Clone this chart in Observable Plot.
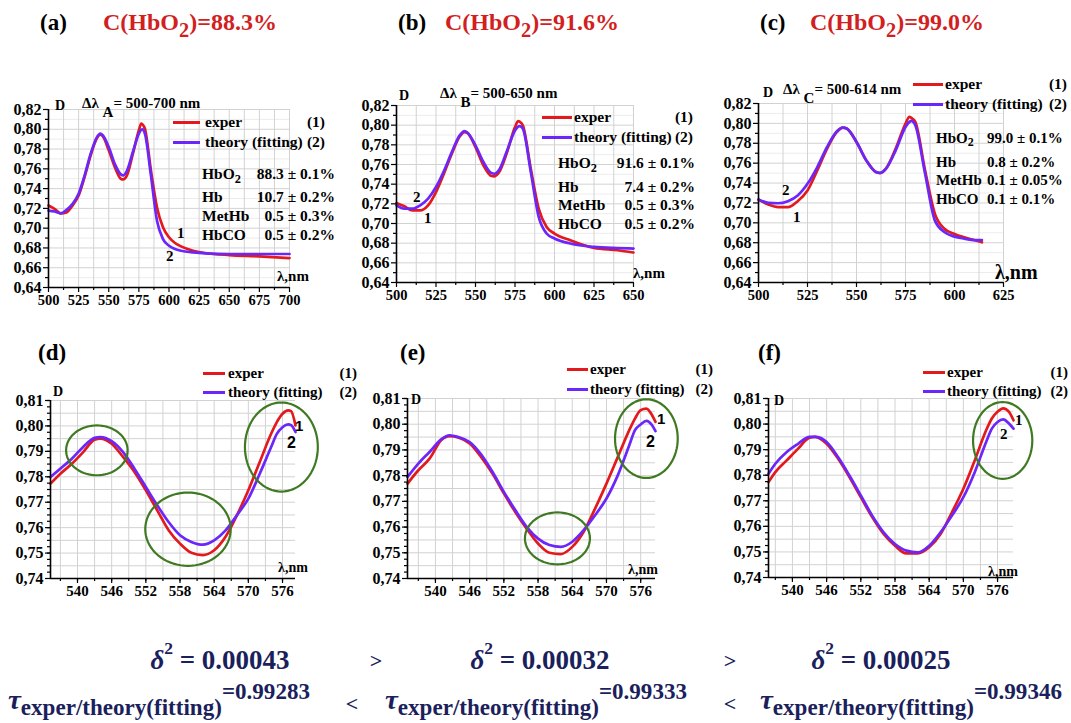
<!DOCTYPE html>
<html><head><meta charset="utf-8">
<script src="https://cdn.jsdelivr.net/npm/d3@7"></script>
<script src="https://cdn.jsdelivr.net/npm/@observablehq/plot@0.6"></script>
<style>
body{margin:0;background:#fff;}
#fig{position:relative;width:1071px;height:723px;overflow:hidden;background:#fff;font-family:"Liberation Serif","Times New Roman","DejaVu Serif",serif;font-weight:bold;color:#000;}
.t{position:absolute;white-space:nowrap;line-height:1;font-family:"Liberation Serif","Times New Roman","DejaVu Serif",serif;font-weight:bold;}
.p{position:absolute;}
.ln{position:absolute;height:3px;}
</style>
</head><body>
<div id="fig"></div>
<script>
// ---------- data ----------
const aWl = [500,505,510,515,520,525,530,535,540,543,545,550,555,560,562,565,570,575,577,578,580,585,590,595,600,605,610,620,630,650,675,700];
const aExper = [0.7229,0.7195,0.7150,0.7160,0.7230,0.7330,0.7520,0.7737,0.7906,0.7946,0.7930,0.7787,0.7620,0.7500,0.7493,0.7530,0.7750,0.7990,0.8058,0.8050,0.8007,0.7584,0.7212,0.7010,0.6908,0.6850,0.6816,0.6772,0.6749,0.6728,0.6715,0.6698];
const aTheory = [0.7178,0.7168,0.7150,0.7185,0.7246,0.7348,0.7534,0.7753,0.7916,0.7956,0.7940,0.7820,0.7650,0.7544,0.7534,0.7578,0.7770,0.7956,0.7995,0.8000,0.7956,0.7534,0.7077,0.6890,0.6823,0.6789,0.6772,0.6755,0.6745,0.6739,0.6739,0.6739];

const bWl = [500,505,510,515,520,525,530,535,540,543,545,550,555,560,562,565,570,575,577,578,580,585,590,595,600,610,625,640,650];
const bExper = [0.7209,0.7175,0.7134,0.7134,0.7185,0.7320,0.7507,0.7710,0.7885,0.7930,0.7920,0.7777,0.7591,0.7483,0.7480,0.7523,0.7726,0.7980,0.8041,0.8035,0.7997,0.7557,0.7151,0.6965,0.6898,0.6830,0.6752,0.6728,0.6705];
const bTheory = [0.7185,0.7151,0.7151,0.7185,0.7253,0.7371,0.7534,0.7726,0.7896,0.7940,0.7923,0.7794,0.7625,0.7513,0.7506,0.7547,0.7743,0.7946,0.7985,0.7990,0.7963,0.7523,0.7067,0.6898,0.6847,0.6796,0.6762,0.6750,0.6745];

const cWl = [500,505,510,515,520,525,530,535,540,543,545,550,555,560,562,565,570,575,577,578,580,585,590,595,600,605,610,614];
const cExper = [0.7234,0.7184,0.7157,0.7157,0.7218,0.7325,0.7527,0.7746,0.7914,0.7958,0.7948,0.7813,0.7628,0.7510,0.7500,0.7544,0.7746,0.7998,0.8065,0.8055,0.8015,0.7527,0.7090,0.6938,0.6888,0.6854,0.6827,0.6804];
const cTheory = [0.7234,0.7201,0.7197,0.7218,0.7275,0.7392,0.7561,0.7763,0.7921,0.7958,0.7948,0.7813,0.7628,0.7510,0.7503,0.7544,0.7729,0.7964,0.8015,0.8025,0.7981,0.7494,0.7022,0.6905,0.6861,0.6841,0.6827,0.6827];

const dWl = [535.26,537,539,541,543,544,546,548,550,552,554,556,558,560,562,564,566,568,570,572,574,575,576,577,577.5,578.28];
const dExper = [0.7773,0.7812,0.7851,0.7897,0.7946,0.7950,0.7930,0.7878,0.7819,0.7747,0.7668,0.7590,0.7537,0.7501,0.7492,0.7511,0.7564,0.7649,0.7747,0.7858,0.7969,0.8015,0.8048,0.8061,0.8058,0.8002];
const dTheory = [0.7799,0.7832,0.7871,0.7917,0.7953,0.7956,0.7940,0.7897,0.7832,0.7760,0.7688,0.7622,0.7570,0.7544,0.7533,0.7550,0.7589,0.7649,0.7714,0.7812,0.7917,0.7969,0.7995,0.8006,0.8003,0.7976];

const eWl = [535.1,537,539,541,542.5,544,546,548,550,552,554,556,558,560,562,564,566,568,570,572,574,575,576,577,578,578.6];
const eExper = [0.7769,0.7821,0.7867,0.7938,0.7954,0.7948,0.7925,0.7873,0.7808,0.7731,0.7659,0.7594,0.7536,0.7500,0.7495,0.7523,0.7582,0.7672,0.7769,0.7873,0.7977,0.8022,0.8055,0.8061,0.8035,0.8009];
const eTheory = [0.7795,0.7847,0.7893,0.7941,0.7957,0.7950,0.7931,0.7883,0.7815,0.7737,0.7666,0.7601,0.7555,0.7530,0.7523,0.7543,0.7588,0.7646,0.7711,0.7802,0.7918,0.7977,0.7999,0.8013,0.7996,0.7973];

const fWl = [535.8,537,539,541,543,544,546,548,550,552,554,556,558,560,562,564,566,568,570,572,574,575,576,577,578,578.8];
const fExper = [0.7773,0.7812,0.7858,0.7904,0.7947,0.7950,0.7923,0.7865,0.7793,0.7714,0.7636,0.7570,0.7524,0.7494,0.7494,0.7518,0.7570,0.7655,0.7747,0.7858,0.7976,0.8022,0.8048,0.8061,0.8048,0.8015];
const fTheory = [0.7806,0.7845,0.7891,0.7923,0.7950,0.7950,0.7930,0.7871,0.7799,0.7721,0.7642,0.7577,0.7531,0.7505,0.7498,0.7524,0.7577,0.7642,0.7714,0.7812,0.7930,0.7982,0.8008,0.8018,0.8002,0.7982];

// tick labels
const topYTicks = [0.64,0.66,0.68,0.70,0.72,0.74,0.76,0.78,0.80,0.82];
const botYTicks = [0.74,0.75,0.76,0.77,0.78,0.79,0.80,0.81];
const aXTicks = [500,525,550,575,600,625,650,675,700];
const bXTicks = [500,525,550,575,600,625,650];
const cXTicks = [500,525,550,575,600,625];
const botXTicks = [540,546,552,558,564,570,576];

// component tables
const compNames = ["HbO<sub style='font-size:0.8em;vertical-align:-0.3em;line-height:0'>2</sub>","Hb","MetHb","HbCO"];
const aComp = ["88.3 ± 0.1%","10.7 ± 0.2%","0.5 ± 0.3%","0.5 ± 0.2%"];
const bComp = ["91.6 ± 0.1%","7.4 ± 0.2%","0.5 ± 0.3%","0.5 ± 0.2%"];
const cComp = ["99.0 ± 0.1%","0.8 ± 0.2%","0.1 ± 0.05%","0.1 ± 0.1%"];
const titles = ["88.3%","91.6%","99.0%"];
const delta2 = ["0.00043","0.00032","0.00025"];
const tau = ["0.99283","0.99333","0.99346"];

// highlighted regions (annotation ellipses, data units)
const dEllipses = [{cx:543.4,cy:0.7904,rx:5.4,ry:0.0098},{cx:559.4,cy:0.7594,rx:7.5,ry:0.0144},{cx:575.8,cy:0.7917,rx:6.4,ry:0.0175}];
const eEllipses = [{cx:561.4,cy:0.7556,rx:5.7,ry:0.0101},{cx:577.0,cy:0.7944,rx:5.5,ry:0.0153}];
const fEllipses = [{cx:576.9,cy:0.7936,rx:5.2,ry:0.0150}];

// ---------- drawing ----------
const RED = "#e2191d", BLUE = "#6b26fa", GREEN = "#3f7a22";
const fig = document.getElementById("fig");
const comma = d => d.toFixed(2).replace(".", ",");

function range(a, b, s){ const r=[]; for(let v=a; v<=b+1e-9; v+=s) r.push(+v.toFixed(6)); return r; }

function panel(c){
  const ex = c.wl.map((w,i)=>({wl:w, D:c.exper[i]}));
  const th = c.wl.map((w,i)=>({wl:w, D:c.theory[i]}));
  const marks = [
    Plot.ruleY(c.yMinor, {stroke:"#ececec", strokeWidth:1}),
    Plot.ruleY(c.yGrid, {stroke:"#d2d2d2", strokeWidth:1}),
    Plot.ruleX(c.xGrid, {stroke:"#d2d2d2", strokeWidth:1}),
    Plot.line(ex, {x:"wl", y:"D", stroke:RED, strokeWidth:2.7, curve:"monotone-x"}),
    Plot.line(th, {x:"wl", y:"D", stroke:BLUE, strokeWidth:2.7, curve:"monotone-x"}),
  ];
  if (c.ellipses){
    const pts = [];
    c.ellipses.forEach((e,k)=>{ for(let i=0;i<=72;i++){ const a=i/72*2*Math.PI; pts.push({k, x:e.cx+e.rx*Math.cos(a), y:e.cy+e.ry*Math.sin(a)}); } });
    marks.push(Plot.line(pts, {x:"x", y:"y", z:"k", stroke:GREEN, strokeWidth:2.2}));
  }
  marks.push(
    Plot.axisY(c.yMinorTicks, {tickSize:3, text:null, label:null, stroke:"#000", strokeWidth:1.2}),
    Plot.axisY(c.yTicks, {tickSize:5, tickPadding:2, tickFormat:comma, fontSize:16, fontWeight:"bold", stroke:"#000", strokeWidth:1.2, label:null}),
    Plot.axisX(c.xMinorTicks, {tickSize:3, text:null, label:null, stroke:"#000", strokeWidth:1.2}),
    Plot.axisX(c.xTicks, {tickSize:5, tickPadding:2, fontSize:c.xfs||15, fontWeight:"bold", stroke:"#000", strokeWidth:1.2, label:null}),
    Plot.ruleX([c.xDomain[0]], {stroke:"#000", strokeWidth:1.6}),
    Plot.ruleY([c.yDomain[0]], {stroke:"#000", strokeWidth:1.6})
  );
  const svg = Plot.plot({
    width:c.w, height:c.h,
    marginLeft:c.ml, marginRight:c.mr, marginTop:c.mt, marginBottom:c.mb,
    style:{fontFamily:"'Liberation Serif','Times New Roman',serif", fontWeight:"bold", background:"transparent", overflow:"visible"},
    x:{domain:c.xDomain, label:null}, y:{domain:c.yDomain, label:null},
    marks
  });
  svg.classList.add("p");
  svg.style.left = c.left + "px"; svg.style.top = c.top + "px";
  fig.appendChild(svg);
}

function put(x, y, html, fs, anchor="start", extra="", sx=1){
  const d = document.createElement("div");
  d.className = "t";
  d.style.left = x + "px"; d.style.top = y + "px";
  d.style.fontSize = fs + "px";
  const tx = anchor === "end" ? "-100%" : anchor === "middle" ? "-50%" : "0";
  d.style.transformOrigin = anchor === "end" ? "right center" : anchor === "middle" ? "center center" : "left center";
  d.style.transform = `translate(${tx},-50%) scaleX(${sx})`;
  if (extra) d.style.cssText += extra;
  d.innerHTML = html;
  fig.appendChild(d);
  return d;
}
function hline(x1, x2, y, col){
  const d = document.createElement("div");
  d.className = "ln";
  d.style.left = x1 + "px"; d.style.top = (y-1.5) + "px"; d.style.width = (x2-x1) + "px"; d.style.background = col;
  fig.appendChild(d);
}
function legend(x1, x2, y1, y2, tx, rx, fs){
  hline(x1, x2, y1, RED); hline(x1, x2, y2, BLUE);
  put(tx, y1, "exper", fs);
  put(rx, y1, "(1)", fs, "end");
  put(tx, y2, "theory (fitting)", fs);
  put(rx, y2, "(2)", fs, "end");
}

// top row panels
panel({wl:aWl, exper:aExper, theory:aTheory, left:0, top:80, w:360, h:240, ml:48, mr:71, mt:29, mb:33,
  xDomain:[500,700], yDomain:[0.64,0.82], xTicks:aXTicks, yTicks:topYTicks,
  xGrid:range(500,700,12.5), yGrid:range(0.64,0.82,0.02), yMinor:range(0.65,0.81,0.02),
  xMinorTicks:range(512.5,687.5,25), yMinorTicks:range(0.65,0.81,0.02), xfs:14.5});
panel({wl:bWl, exper:bExper, theory:bTheory, left:355, top:80, w:360, h:240, ml:41, mr:82, mt:25, mb:38,
  xDomain:[500,650], yDomain:[0.64,0.82], xTicks:bXTicks, yTicks:topYTicks,
  xGrid:range(500,650,12.5), yGrid:range(0.64,0.82,0.02), yMinor:range(0.65,0.81,0.02),
  xMinorTicks:range(512.5,637.5,25), yMinorTicks:range(0.65,0.81,0.02), xfs:14.5});
panel({wl:cWl, exper:cExper, theory:cTheory, left:710, top:80, w:361, h:240, ml:48, mr:68, mt:23, mb:38,
  xDomain:[500,625], yDomain:[0.64,0.82], xTicks:cXTicks, yTicks:topYTicks,
  xGrid:range(500,625,12.5), yGrid:range(0.64,0.82,0.02), yMinor:range(0.65,0.81,0.02),
  xMinorTicks:range(512.5,612.5,25), yMinorTicks:range(0.65,0.81,0.02), xfs:14.5});

// bottom row panels
panel({wl:dWl, exper:dExper, theory:dTheory, left:0, top:330, w:360, h:270, ml:50, mr:65, mt:70, mb:22,
  xDomain:[535.26,578.28], yDomain:[0.74,0.81], xTicks:botXTicks, yTicks:botYTicks, ellipses:dEllipses,
  xGrid:range(537,576,3), yGrid:range(0.745,0.81,0.005), yMinor:[],
  xMinorTicks:range(537,576,3), yMinorTicks:range(0.7425,0.81,0.0025), xfs:15});
panel({wl:eWl, exper:eExper, theory:eTheory, left:355, top:330, w:360, h:270, ml:52, mr:60, mt:68, mb:22,
  xDomain:[535.1,578.6], yDomain:[0.74,0.81], xTicks:botXTicks, yTicks:botYTicks, ellipses:eEllipses,
  xGrid:range(537,576,3), yGrid:range(0.745,0.81,0.005), yMinor:[],
  xMinorTicks:range(537,576,3), yMinorTicks:range(0.7425,0.81,0.0025), xfs:15});
panel({wl:fWl, exper:fExper, theory:fTheory, left:710, top:330, w:361, h:270, ml:58, mr:58, mt:68, mb:23,
  xDomain:[535.8,578.8], yDomain:[0.74,0.81], xTicks:botXTicks, yTicks:botYTicks, ellipses:fEllipses,
  xGrid:range(537,576,3), yGrid:range(0.745,0.81,0.005), yMinor:[],
  xMinorTicks:range(537,576,3), yMinorTicks:range(0.7425,0.81,0.0025), xfs:15});

// ---------- headings ----------
const sub2 = "<sub style='font-size:0.85em;vertical-align:-0.35em;line-height:0'>2</sub>";
[["(a)",40,103],["(b)",398,445],["(c)",760,810]].forEach(([l,x,xr],i)=>{
  put(x, 22, l, 23);
  put(xr, 22, "C(HbO" + sub2 + ")=" + titles[i], 24, "start", "color:#d21f1f;", 1.0);
});
put(38, 352, "(d)", 23); put(400, 352, "(e)", 23); put(758, 352, "(f)", 23);

// panel (a) annotations
put(55, 106, "D", 14);
put(82, 104, "Δλ <sub style='font-size:1em;vertical-align:-0.55em;line-height:0'>A</sub>= 500-700 nm", 15);
legend(173, 200, 122, 142, 205, 325, 15.5);
compNames.forEach((n,i)=>{ const y=[174,197,216,235][i]; put(202, y, n, 15.5); put(335, y, aComp[i], 15.5, "end"); });
put(177, 233, "1", 15); put(166, 256, "2", 15);
put(277, 276, "λ,nm", 15);

// panel (b) annotations
put(399, 96, "D", 14);
put(440, 94, "Δλ <sub style='font-size:1em;vertical-align:-0.55em;line-height:0'>B</sub>= 500-650 nm", 15);
legend(542, 572, 117, 137, 574, 693, 15.5);
compNames.forEach((n,i)=>{ const y=[163,187,205,224][i]; put(558, y, n, 15.5); put(695, y, bComp[i], 15.5, "end"); });
put(413, 197, "2", 15); put(424, 218, "1", 15);
put(633, 273, "λ,nm", 15);

// panel (c) annotations
put(763, 93, "D", 14);
put(783, 90, "Δλ <sub style='font-size:1em;vertical-align:-0.55em;line-height:0'>C</sub>= 500-614 nm", 15);
legend(913, 943, 84, 104, 945, 1067, 15.5);
compNames.forEach((n,i)=>{ const y=[138,162,180,199][i]; put(936, y, n, 15); put(987, y, cComp[i], 15); });
put(782, 190, "2", 15); put(793, 217, "1", 15);
put(995, 272, "λ,nm", 20);

// panel (d)
put(53, 392, "D", 14);
legend(203, 225, 373, 392, 228, 357, 15);
put(295, 425, "1", 15, "start", "font-family:'Liberation Sans',Arial,sans-serif;");
put(287, 443, "2", 16, "start", "font-family:'Liberation Sans',Arial,sans-serif;");
put(278, 568, "λ,nm", 14);

// panel (e)
put(411, 400, "D", 14);
legend(567, 588, 369, 389, 590, 713, 15);
put(657, 418, "1", 15, "start", "font-family:'Liberation Sans',Arial,sans-serif;");
put(646, 442, "2", 16, "start", "font-family:'Liberation Sans',Arial,sans-serif;");
put(628, 570, "λ,nm", 14);

// panel (f)
put(774, 401, "D", 14);
legend(923, 945, 372, 391, 947, 1068, 15);
put(1015, 420, "1", 15);
put(1000, 434, "2", 15);
put(988, 572, "λ,nm", 14);

// ---------- bottom statistics ----------
const NAVY = "#1b1f5c";
[220, 540, 881].forEach((x,i)=>{
  put(x, 660, "<i>δ</i><sup style='font-size:0.65em;vertical-align:0.8em;line-height:0'>2</sup> = " + delta2[i], 27, "middle", "color:"+NAVY+";", 1.0);
});
put(376, 661, "&gt;", 22, "middle", "color:"+NAVY+";");
put(730, 661, "&gt;", 22, "middle", "color:"+NAVY+";");
[8, 385, 760].forEach((x,i)=>{
  put(x, 700, "<i>τ</i><span style='font-size:0.8em;vertical-align:-0.25em'>exper/theory(fitting)</span><span style='font-size:0.8em;vertical-align:0.45em'>=" + tau[i] + "</span>", 28, "start", "color:"+NAVY+";", 1.03);
});
put(352, 704, "&lt;", 22, "middle", "color:"+NAVY+";");
put(730, 704, "&lt;", 22, "middle", "color:"+NAVY+";");
</script>
</body></html>
